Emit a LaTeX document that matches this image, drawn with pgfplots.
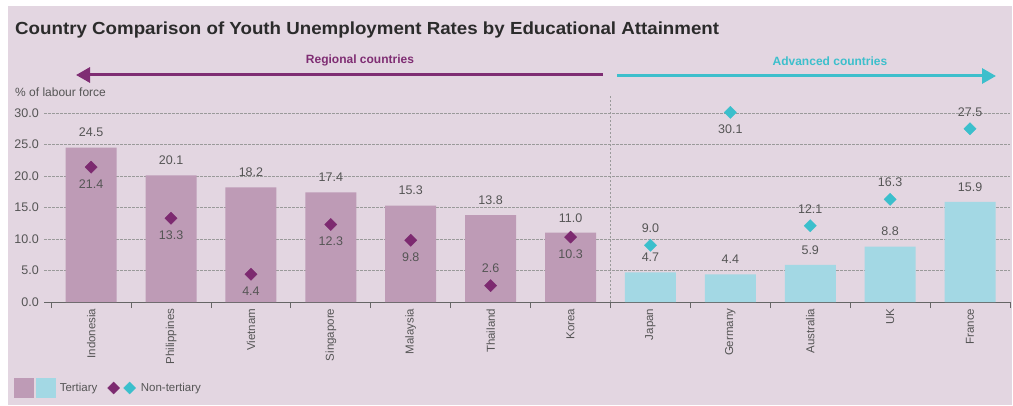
\documentclass[border=0pt]{standalone}
\usepackage{pgfplots}
\pgfplotsset{compat=1.18}
\usepackage{fontspec}
\setmainfont{Liberation Sans}
\usetikzlibrary{arrows.meta}
\definecolor{panel}{HTML}{E3D6E1}
\definecolor{regbar}{HTML}{BE9BB6}
\definecolor{regdia}{HTML}{7D2A70}
\definecolor{advbar}{HTML}{A3D8E4}
\definecolor{advdia}{HTML}{3BBFCC}
\definecolor{purp}{HTML}{7F2D73}
\definecolor{tealc}{HTML}{3DBFCC}
\definecolor{titlecol}{HTML}{2B2B2B}
\definecolor{labcol}{HTML}{555555}
\definecolor{axiscol}{HTML}{666666}
\definecolor{gridcol}{HTML}{9A9A9A}

\pgfplotstableread{
x y pos
0 21.4 -1
1 13.3 -1
2 4.4 -1
3 12.3 -1
4 9.8 -1
5 2.6 1
6 10.3 -1
}\regnon
\pgfplotstableread{
x y pos
7 9.0 1
8 30.1 -1
9 12.1 1
10 16.3 1
11 27.5 1
}\advnon

\begin{document}
\begin{tikzpicture}[x=1pt,y=1pt]
\useasboundingbox (0,0) rectangle (1013,405);
\fill[white] (0,0) rectangle (1013,405);
\fill[panel] (8,0) rectangle (1012,399);
\node[anchor=base west, font=\fontsize{17.5}{20}\selectfont\bfseries\addfontfeature{FakeStretch=1.07}, text=titlecol, inner sep=0] at (15,370) {Country Comparison of Youth Unemployment Rates by Educational Attainment};
\node[anchor=base west, font=\fontsize{12}{14}\selectfont, text=labcol, inner sep=0] at (15,308) {\% of labour force};
\draw[purp, line width=3pt, {Triangle[length=14pt,width=15pt]}-] (76,330) -- (603,330);
\draw[tealc, line width=3pt, -{Triangle[length=14pt,width=15pt]}] (617,329) -- (996,329);
\node[font=\fontsize{12}{14}\selectfont\bfseries, text=purp] at (360,345) {Regional countries};
\node[font=\fontsize{12}{14}\selectfont\bfseries, text=tealc] at (830,344) {Advanced countries};

\begin{axis}[
  at={(44pt,103pt)}, anchor=south west, scale only axis,
  width=966pt, height=189pt,
  xmin=-0.59, xmax=11.5, ymin=0, ymax=30,
  clip=false,
  axis x line*=bottom, axis y line*=left,
  x axis line style={draw=axiscol, line width=1pt},
  y axis line style={draw=none},
  ytick={0,5,...,30},
  ytick style={draw=none},
  ymajorgrids,
  major grid style={dash pattern=on 2.5pt off 1.5pt, draw=gridcol, line width=0.6pt},
  xtick={-0.5,0.5,...,11.5},
  x tick label as interval,
  xticklabels={Indonesia,Philippines,Vietnam,Singapore,Malaysia,Thailand,Korea,Japan,Germany,Australia,UK,France},
  xtick style={draw=axiscol, line width=0.8pt},
  tick align=outside,
  major tick length=6pt,
  xticklabel style={rotate=90, anchor=east, font=\fontsize{11.5}{13}\selectfont, text=labcol, inner sep=0.5pt},
  yticklabel style={font=\fontsize{12.5}{14}\selectfont, text=labcol, inner sep=1pt, xshift=2pt},
  /pgf/number format/.cd, fixed, fixed zerofill, precision=1, assume math mode=true, /pgfplots/.cd,
  legend style={at={(-0.034,-0.455)}, anchor=west, draw=none, fill=none, legend columns=2,
    font=\fontsize{11.5}{13}\selectfont, text=labcol,
    /tikz/every even column/.append style={column sep=8pt}},
  legend cell align=left,
]
\addplot[ybar, bar width=51pt, bar shift=0pt, fill=regbar, draw=none,
  nodes near coords, point meta=y,
  every node near coord/.append style={anchor=center, yshift=15pt, font=\fontsize{12.5}{14}\selectfont, text=labcol}, forget plot]
  coordinates {(0,24.5) (1,20.1) (2,18.2) (3,17.4) (4,15.3) (5,13.8) (6,11.0)};
\addplot[ybar, bar width=51pt, bar shift=0pt, fill=advbar, draw=none,
  nodes near coords, point meta=y,
  every node near coord/.append style={anchor=center, yshift=15pt, font=\fontsize{12.5}{14}\selectfont, text=labcol}, forget plot]
  coordinates {(7,4.7) (8,4.4) (9,5.9) (10,8.8) (11,15.9)};
\draw[gridcol, dash pattern=on 2.5pt off 1.5pt, line width=0.8pt] (axis cs:6.5,0) -- (axis cs:6.5,32.8);
\addplot[only marks, mark=square*, mark size=4.3pt, mark options={rotate=45, fill=regdia, draw=none}, color=regdia,
  nodes near coords, point meta=y,
  visualization depends on={\thisrow{pos} \as \labpos},
  every node near coord/.append style={anchor=center, yshift=\labpos*17pt, font=\fontsize{12.5}{14}\selectfont, text=labcol}, forget plot]
  table[x=x, y=y] {\regnon};
\addplot[only marks, mark=square*, mark size=4.3pt, mark options={rotate=45, fill=advdia, draw=none}, color=advdia,
  nodes near coords, point meta=y,
  visualization depends on={\thisrow{pos} \as \labpos},
  every node near coord/.append style={anchor=center, yshift=\labpos*17pt, font=\fontsize{12.5}{14}\selectfont, text=labcol}, forget plot]
  table[x=x, y=y] {\advnon};
\addlegendimage{legend image code/.code={
  \fill[regbar] (0pt,-9.5pt) rectangle (19pt,9.5pt);
  \fill[advbar] (22pt,-9.5pt) rectangle (41pt,9.5pt);
  \path (43pt,0pt);}}
\addlegendentry{Tertiary}
\addlegendimage{legend image code/.code={
  \fill[regdia] (0pt,0pt) -- (6pt,6pt) -- (12pt,0pt) -- (6pt,-6pt) -- cycle;
  \fill[advdia] (16pt,0pt) -- (22pt,6pt) -- (28pt,0pt) -- (22pt,-6pt) -- cycle;
  \path (31pt,0pt);}}
\addlegendentry{Non-tertiary}
\end{axis}
\end{tikzpicture}
\end{document}
